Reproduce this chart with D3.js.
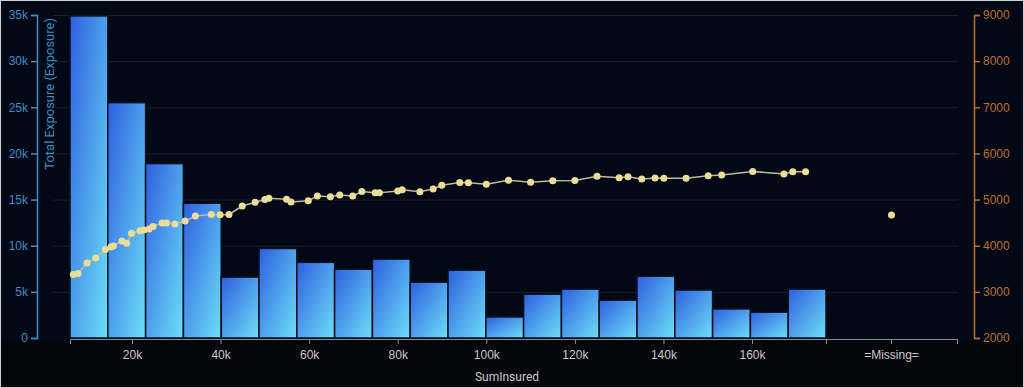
<!DOCTYPE html>
<html>
<head>
    <title>SumInsured - Total Exposure</title>
    <script src="https://d3js.org/d3.v7.min.js"></script>
    <style>
        body { margin: 0; background: #05060a; }
        svg { display: block; font-family: Roboto, "Noto Sans", sans-serif; }
    </style>
</head>
<body>
<svg id="chart" width="1024" height="388"></svg>
<script>
    // bordes de los bins de SumInsured
    const binEdges = [6000, 14535, 23070, 31605, 40140, 48675, 57210, 65745, 74280, 82815, 91350,
        99885, 108420, 116955, 125490, 134025, 142560, 151095, 159630, 168165, 176700];
    // exposicion total por bin
    const exposure = [34900, 25500, 18900, 14600, 6600, 9700, 8200, 7450, 8550, 6050,
        7350, 2280, 4750, 5300, 4100, 6700, 5200, 3150, 2800, 5300];

    // serie de la linea (eje derecho)
    const lineX = [6750, 7800, 9850, 11800, 14000, 15250, 15800, 17750, 18800, 19900,
        21800, 22700, 23850, 24750, 26800, 27800, 29700, 32000, 34300, 37900,
        39900, 41900, 44900, 47800, 50000, 50900, 54900, 55900, 59800, 61850,
        64800, 66900, 69850, 71900, 74900, 75850, 80000, 81000, 85000, 88000,
        89950, 94000, 95950, 100000, 105000, 110000, 115000, 120000, 125000, 130000,
        132000, 135100, 138100, 140100, 145100, 150100, 153150, 160150, 167200, 169200, 172100];
    const lineY = [3376, 3398, 3625, 3734, 3918, 3972, 3994, 4102, 4052, 4269,
        4325, 4341, 4362, 4416, 4492, 4492, 4471, 4536, 4644, 4676,
        4672, 4676, 4861, 4941, 5002, 5028, 5006, 4947, 4973, 5077,
        5062, 5099, 5077, 5175, 5149, 5149, 5186, 5214, 5171, 5229,
        5309, 5370, 5366, 5333, 5418, 5376, 5407, 5413, 5506, 5472,
        5496, 5446, 5467, 5463, 5463, 5515, 5532, 5608, 5554, 5602, 5604];
    const missingLineY = 4666;

    const xTicks = [20000, 40000, 60000, 80000, 100000, 120000, 140000, 160000];
    const leftTicks = [0, 5000, 10000, 15000, 20000, 25000, 30000, 35000];
    const rightTicks = [2000, 3000, 4000, 5000, 6000, 7000, 8000, 9000];

    const svg = d3.select("#chart");
    const W = 1024, H = 388;
    const yTop = 15, yBottom = 338;
    const leftColor = "#3b8fc4", rightColor = "#b8702c";

    // fondo del area de grafico
    svg.append("rect").attr("x", 1).attr("y", 1).attr("width", W - 2).attr("height", yBottom + 2)
        .attr("fill", "#020816");
    svg.append("rect").attr("x", 0.5).attr("y", 0.5).attr("width", W - 1).attr("height", H - 1)
        .attr("fill", "none").attr("stroke", "#cfcfcf").attr("stroke-width", 1);

    const defs = svg.append("defs");
    const grad = defs.append("linearGradient").attr("id", "barGrad")
        .attr("x1", 0).attr("y1", 0).attr("x2", 1).attr("y2", 1);
    grad.append("stop").attr("offset", "0%").attr("stop-color", "#2e5fe0");
    grad.append("stop").attr("offset", "100%").attr("stop-color", "#6cdff7");
    const glow = defs.append("filter").attr("id", "glow");
    glow.append("feGaussianBlur").attr("stdDeviation", 0.6);

    const x = d3.scaleLinear().domain([binEdges[0], binEdges[binEdges.length - 1]]).range([70, 826]);
    const xMissing = d3.scaleBand().domain(["=Missing="]).range([826, 957]);
    const yL = d3.scaleLinear().domain([0, 35000]).range([yBottom, yTop]);
    const yR = d3.scaleLinear().domain([2000, 9000]).range([yBottom, yTop]);

    // lineas de cuadricula
    svg.append("g").selectAll("line").data(leftTicks.slice(1)).join("line")
        .attr("x1", 53).attr("x2", 958)
        .attr("y1", d => yL(d) + 0.5).attr("y2", d => yL(d) + 0.5)
        .attr("stroke", "#1a1f2b").attr("stroke-width", 1);

    // barras
    svg.append("g").selectAll("rect").data(exposure).join("rect")
        .attr("x", (d, i) => x(binEdges[i]))
        .attr("width", (d, i) => x(binEdges[i + 1]) - x(binEdges[i]))
        .attr("y", d => yL(d))
        .attr("height", d => yBottom - yL(d))
        .attr("fill", "url(#barGrad)")
        .attr("stroke", "#07101f").attr("stroke-width", 1.5);

    // linea
    const pts = lineX.map((v, i) => [x(v), yR(lineY[i])]);
    svg.append("path").datum(pts)
        .attr("fill", "none").attr("stroke", "#bdb99c").attr("stroke-width", 1.6)
        .attr("d", d3.line());
    svg.append("g").attr("filter", "url(#glow)").selectAll("circle")
        .data(pts.concat([[xMissing("=Missing=") + xMissing.bandwidth() / 2, yR(missingLineY)]]))
        .join("circle")
        .attr("cx", d => d[0]).attr("cy", d => d[1]).attr("r", 3.5)
        .attr("fill", "#ebdd98");

    // ejes
    const gx = svg.append("g").attr("transform", `translate(0,${yBottom + 1})`)
        .call(d3.axisBottom(x).tickValues(xTicks).tickFormat(d => (d / 1000) + "k").tickSize(5));
    const gm = svg.append("g").attr("transform", `translate(0,${yBottom + 1})`)
        .call(d3.axisBottom(xMissing).tickSize(5));
    [gx, gm].forEach(g => {
        g.selectAll("path, line").attr("stroke", "#8a8d94");
        g.selectAll("text").attr("fill", "#c9c9c9").attr("font-size", 12).attr("dy", "1em");
    });

    const gl = svg.append("g").attr("transform", "translate(37,0)")
        .call(d3.axisLeft(yL).tickValues(leftTicks).tickFormat(d => d === 0 ? "0" : (d / 1000) + "k").tickSize(6));
    gl.selectAll("path, line").attr("stroke", leftColor).attr("stroke-width", 1.5);
    gl.selectAll("text").attr("fill", leftColor).attr("font-size", 12);

    const gr = svg.append("g").attr("transform", "translate(974,0)")
        .call(d3.axisRight(yR).tickValues(rightTicks).tickFormat(d3.format("d")).tickSize(6));
    gr.selectAll("path, line").attr("stroke", rightColor).attr("stroke-width", 1.5);
    gr.selectAll("text").attr("fill", rightColor).attr("font-size", 12);

    svg.append("text")
        .attr("transform", "translate(54,18) rotate(-90)")
        .attr("text-anchor", "end")
        .attr("fill", leftColor).attr("font-size", 13)
        .text("Total Exposure (Exposure)");

    svg.append("text")
        .attr("x", 507).attr("y", 381)
        .attr("text-anchor", "middle")
        .attr("fill", "#c9c9c9").attr("font-size", 12)
        .text("SumInsured");
</script>
</body>
</html>
